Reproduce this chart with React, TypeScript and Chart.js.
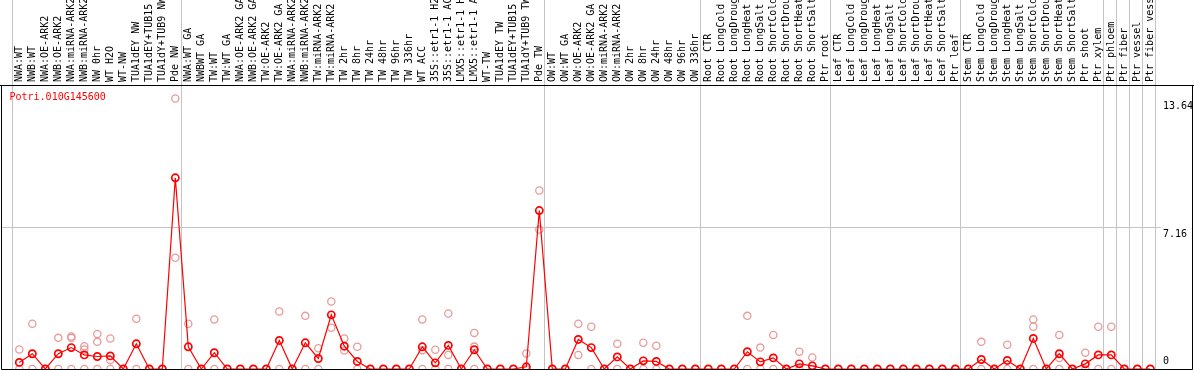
import React, { useEffect, useRef } from 'react';
import { Chart, registerables } from 'chart.js';

Chart.register(...registerables);

const geneId = 'Potri.010G145600';

const categories = [
  'NWA:WT', 'NWB:WT', 'NWA:OE-ARK2', 'NWB:OE-ARK2', 'NWA:miRNA-ARK2', 'NWB:miRNA-ARK2',
  'NW 0hr', 'WT H2O', 'WT-NW', 'TUA1dEY NW', 'TUA1dEY+TUB15 NW', 'TUA1dY+TUB9 NW', 'Pde NW',
  'NWA:WT GA', 'NWBWT GA', 'TW:WT', 'TW:WT GA', 'NWA:OE-ARK2 GA', 'NWB:OE-ARK2 GA',
  'TW:OE-ARK2', 'TW:OE-ARK2 GA', 'NWA:miRNA-ARK2 GA', 'NWB:miRNA-ARK2 GA', 'TW:miRNA-ARK2',
  'TW:miRNA-ARK2 GA', 'TW 2hr', 'TW 8hr', 'TW 24hr', 'TW 48hr', 'TW 96hr', 'TW 336hr',
  'WT ACC', '35S::etr1-1 H2O', '35S::etr1-1 ACC', 'LMX5::etr1-1 H2O', 'LMX5::etr1-1 ACC',
  'WT-TW', 'TUA1dEY TW', 'TUA1dEY+TUB15 TW', 'TUA1dY+TUB9 TW', 'Pde TW',
  'OW:WT', 'OW:WT GA', 'OW:OE-ARK2', 'OW:OE-ARK2 GA', 'OW:miRNA-ARK2', 'OW:miRNA-ARK2 GA',
  'OW 2hr', 'OW 8hr', 'OW 24hr', 'OW 48hr', 'OW 96hr', 'OW 336hr',
  'Root CTR', 'Root LongCold', 'Root LongDrought', 'Root LongHeat', 'Root LongSalt',
  'Root ShortCold', 'Root ShortDrought', 'Root ShortHeat', 'Root ShortSalt', 'Ptr root',
  'Leaf CTR', 'Leaf LongCold', 'Leaf LongDrought', 'Leaf LongHeat', 'Leaf LongSalt',
  'Leaf ShortCold', 'Leaf ShortDrought', 'Leaf ShortHeat', 'Leaf ShortSalt', 'Ptr leaf',
  'Stem CTR', 'Stem LongCold', 'Stem LongDrought', 'Stem LongHeat', 'Stem LongSalt',
  'Stem ShortCold', 'Stem ShortDrought', 'Stem ShortHeat', 'Stem ShortSalt', 'Ptr shoot',
  'Ptr xylem', 'Ptr phloem', 'Ptr fiber', 'Ptr vessel', 'Ptr fiber vessel',
];

// mean expression per sample
const meanExpr = [
  0.33, 0.77, 0, 0.77, 1.08, 0.71, 0.63, 0.66, 0, 1.27,
  0, 0, 9.64, 1.12, 0, 0.82, 0, 0, 0, 0,
  1.44, 0, 1.32, 0.53, 2.73, 1.15, 0.38, 0, 0, 0,
  0, 1.12, 0.31, 1.19, 0, 0.97, 0, 0, 0, 0.11,
  7.99, 0, 0, 1.49, 1.08, 0, 0.61, 0, 0.41, 0.38,
  0, 0, 0, 0, 0, 0, 0.87, 0.36, 0.56, 0,
  0.26, 0.16, 0, 0, 0, 0, 0, 0, 0, 0,
  0, 0, 0, 0, 0.48, 0, 0.43, 0, 1.54, 0,
  0.77, 0, 0.26, 0.71, 0.71, 0, 0, 0,
];

// replicate values (null = no such replicate)
const rep1 = [
  0.98, 2.28, null, 1.57, 1.64, 1.15, 1.77, 1.54, null, 2.53,
  null, null, 13.64, 2.28, null, 2.50, null, null, null, null,
  2.90, null, 2.68, 1.05, 3.40, 1.54, 1.12, null, null, null,
  null, 2.50, 0.97, 2.80, null, 1.82, null, null, null, 0.78,
  9.00, null, null, 2.28, 2.13, null, 1.27, null, 1.32, 1.17,
  null, null, null, null, null, null, 2.68, 1.08, 1.72, null,
  0.87, 0.58, null, null, null, null, null, null, null, null,
  null, null, null, null, 1.37, null, 1.22, null, 2.50, null,
  1.72, null, 0.82, 2.13, 2.13, null, null, null,
];

const rep2 = [
  null, null, null, null, 1.57, 0.98, 1.37, 0.46, null, null,
  null, null, 5.61, null, null, null, null, null, null, null,
  null, null, null, null, 2.08, 0.93, null, null, null, null,
  null, 0.95, null, 0.71, null, 1.13, null, null, null, null,
  7.03, null, null, 0.71, null, null, null, null, null, null,
  null, null, null, null, null, null, null, null, null, null,
  null, null, null, null, null, null, null, null, null, null,
  null, null, null, null, null, null, null, null, 2.13, null,
  0.56, null, null, null, null, null, null, null,
];

const rep3 = [
  0, 0, 0, 0, 0, 0, 0, 0, 0, 0,
  0, 0, null, 0, 0, 0, 0, 0, 0, 0,
  0, 0, 0, 0, null, null, 0, 0, 0, 0,
  0, 0, 0, 0, 0, 0, 0, 0, 0, 0,
  null, 0, 0, null, 0, 0, 0, 0, 0, 0,
  0, 0, 0, 0, 0, 0, 0, 0, 0, 0,
  0, 0, 0, 0, 0, 0, 0, 0, 0, 0,
  0, 0, 0, 0, 0, 0, 0, 0, 0, 0,
  0, 0, 0, 0, 0, 0, 0, 0,
];

// indices after which a group separator is drawn (-1 = before first)
const groupEnds = [-1, 12, 40, 52, 62, 72, 83, 84, 85, 86, 87];

const yTickValues = [0, 7.16, 13.64];
const yTickLabels = ['0', '7.16', '13.64'];
const yMax = 14.32;

const MONO = '"DejaVu Sans Mono", "Liberation Mono", monospace';

const decorPlugin = {
  id: 'decor',
  beforeDatasetsDraw(chart: any) {
    const { ctx, chartArea: a, scales } = chart;
    const xs = scales.x;
    const ys = scales.y;
    ctx.save();
    ctx.lineWidth = 1;
    ctx.strokeStyle = '#C4C4C4';
    // horizontal grid at middle tick
    const gy = Math.round(ys.getPixelForValue(yTickValues[1])) + 0.5;
    ctx.beginPath();
    ctx.moveTo(a.left, gy);
    ctx.lineTo(a.right - 32, gy);
    ctx.stroke();
    // vertical group separators
    groupEnds.forEach((b) => {
      const px = Math.round(xs.getPixelForValue(b + 0.4)) + 0.5;
      ctx.beginPath();
      ctx.moveTo(px, 0);
      ctx.lineTo(px, a.bottom);
      ctx.stroke();
    });
    // frame
    ctx.strokeStyle = '#000';
    ctx.beginPath();
    ctx.moveTo(0, a.top + 0.5);
    ctx.lineTo(chart.width, a.top + 0.5);
    ctx.moveTo(a.left + 0.5, a.top);
    ctx.lineTo(a.left + 0.5, a.bottom + 0.5);
    ctx.lineTo(a.right - 0.5, a.bottom + 0.5);
    ctx.lineTo(a.right - 0.5, a.top);
    ctx.stroke();
    // y labels
    ctx.fillStyle = '#000';
    ctx.font = `10px ${MONO}`;
    ctx.textAlign = 'left';
    ctx.textBaseline = 'middle';
    yTickValues.forEach((v, i) => {
      const py = ys.getPixelForValue(v);
      const yy = v === 0 ? py - 7.5 : py + 7.5;
      ctx.fillText(yTickLabels[i], a.right - 30, yy);
    });
    // gene title
    ctx.fillStyle = '#FF0000';
    ctx.fillText(geneId, a.left + 8.5, a.top + 12);
    ctx.restore();
  },
};

export default function App() {
  const canvasRef = useRef<HTMLCanvasElement | null>(null);

  useEffect(() => {
    const canvas = canvasRef.current;
    if (!canvas) return;
    const meanPts = meanExpr.map((v, i) => ({ x: i, y: v }));
    const repPts: { x: number; y: number }[] = [];
    [rep1, rep2, rep3].forEach((arr) => {
      arr.forEach((v, i) => {
        if (v !== null) repPts.push({ x: i, y: v as number });
      });
    });

    const chart = new Chart(canvas, {
      type: 'line',
      data: {
        datasets: [
          {
            label: geneId,
            data: meanPts,
            borderColor: '#FF0000',
            borderWidth: 1.2,
            pointRadius: 3.6,
            pointBorderWidth: 1.7,
            pointBorderColor: '#FF0000',
            pointBackgroundColor: 'rgba(0,0,0,0)',
            tension: 0,
            fill: false,
          },
          {
            label: 'replicates',
            data: repPts,
            showLine: false,
            pointRadius: 3.6,
            pointBorderWidth: 1.3,
            pointBorderColor: '#E99A9A',
            pointBackgroundColor: 'rgba(0,0,0,0)',
          },
        ],
      },
      options: {
        animation: false,
        responsive: false,
        devicePixelRatio: 1,
        events: [],
        layout: { autoPadding: false, padding: { left: 1, right: 1, top: 0, bottom: 1 } },
        plugins: { legend: { display: false }, tooltip: { enabled: false } },
        scales: {
          x: {
            type: 'linear',
            position: 'top',
            min: -1.408,
            max: 90.285,
            afterBuildTicks: (scale: any) => {
              scale.ticks = categories.map((_, i) => ({ value: i }));
            },
            afterFit: (scale: any) => {
              scale.height = 85;
              scale.paddingLeft = 0;
              scale.paddingRight = 0;
              scale.paddingTop = 0;
              scale.paddingBottom = 0;
            },
            grid: { display: false, drawTicks: false },
            border: { display: false },
            ticks: {
              autoSkip: false,
              minRotation: 90,
              maxRotation: 90,
              padding: 3,
              labelOffset: 12,
              color: '#000',
              font: { family: MONO, size: 10 },
              callback: (v: any) => categories[v as number],
            },
          },
          y: {
            type: 'linear',
            min: 0,
            max: yMax,
            display: false,
          },
        },
      },
      plugins: [decorPlugin],
    } as any);

    return () => chart.destroy();
  }, []);

  return (
    <div style={{ position: 'absolute', left: 0, top: 0, width: 1194, height: 370, background: '#fff' }}>
      <canvas ref={canvasRef} width={1194} height={370} style={{ width: 1194, height: 370, display: 'block' }} />
    </div>
  );
}
